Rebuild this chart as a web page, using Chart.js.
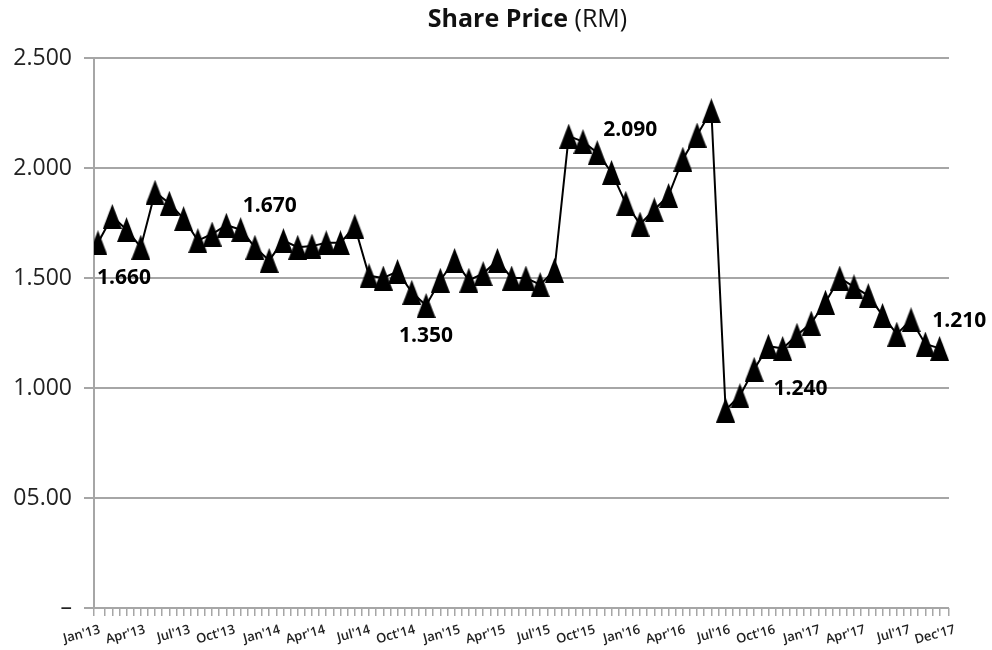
<!DOCTYPE html>
<html lang="en">
<head>
<meta charset="UTF-8">
<title>Share Price (RM)</title>
<script src="https://cdn.jsdelivr.net/npm/chart.js"></script>
<style>
    html, body {
        margin: 0;
        padding: 0;
        background: #fff;
    }
    #wrap {
        position: relative;
        width: 992px;
        height: 650px;
    }
    #title {
        position: absolute;
        left: 127px;
        width: 801px;
        top: 5px;
        text-align: center;
        font-family: "Open Sans", sans-serif;
        font-size: 25px;
        line-height: 25px;
        color: #111;
        white-space: nowrap;
    }
    canvas {
        display: block;
    }
</style>
</head>
<body>
<div id="wrap">
    <div id="title"><b>Share Price</b> (RM)</div>
    <canvas id="priceChart" width="992" height="650"></canvas>
</div>

<script>
    // month names, one per marker (Jan'13 .. Dec'17)
    const monthNames = ['Jan', 'Feb', 'Mar', 'Apr', 'May', 'Jun', 'Jul', 'Aug', 'Sep', 'Oct', 'Nov', 'Dec'];
    const years = ['13', '14', '15', '16', '17'];
    const months = [];
    years.forEach(yy => monthNames.forEach(m => months.push(m + "'" + yy)));

    // monthly share price (RM)
    const prices = [
        1.66, 1.78, 1.72, 1.64, 1.89, 1.84, 1.77, 1.67, 1.70, 1.74, 1.72, 1.64,
        1.58, 1.67, 1.64, 1.645, 1.66, 1.66, 1.735, 1.51, 1.50, 1.53, 1.435, 1.375,
        1.49, 1.58, 1.49, 1.52, 1.58, 1.50, 1.50, 1.47, 1.535, 2.145, 2.12, 2.07,
        1.98, 1.84, 1.745, 1.81, 1.875, 2.04, 2.15, 2.26, 0.90, 0.965, 1.085, 1.19,
        1.18, 1.24, 1.295, 1.39, 1.50, 1.46, 1.42, 1.33, 1.245, 1.31, 1.20, 1.18
    ];

    // axis labels as printed
    const xTickLabels = ["Jan'13", "Apr'13", "Jul'13", "Oct'13", "Jan'14", "Apr'14", "Jul'14", "Oct'14",
        "Jan'15", "Apr'15", "Jul'15", "Oct'15", "Jan'16", "Apr'16", "Jul'16", "Oct'16",
        "Jan'17", "Apr'17", "Jul'17", "Dec'17"];
    const yTickLabels = ['–', '05.00', '1.000', '1.500', '2.000', '2.500'];

    // value notes written on the chart, and the month they sit by
    const noteText = ['1.660', '1.670', '1.350', '2.090', '1.240', '1.210'];
    const noteMonth = ["Jan'13", "Nov'13", "Dec'14", "Dec'15", "Dec'16", "Nov'17"];

    const font = '"Open Sans", sans-serif';
    const gridGrey = '#a6a6a6';

    // black triangle marker, a bit taller than wide
    function triangleMarker(w, h) {
        const c = document.createElement('canvas');
        c.width = w;
        c.height = h;
        const g = c.getContext('2d');
        g.fillStyle = '#000';
        g.beginPath();
        g.moveTo(w / 2, 0);
        g.lineTo(w, h);
        g.lineTo(0, h);
        g.closePath();
        g.fill();
        return c;
    }

    // draws the bold value notes next to their points
    const notesPlugin = {
        id: 'notes',
        afterDatasetsDraw(chart, args, opts) {
            const { ctx, scales: { x, y } } = chart;
            ctx.save();
            ctx.font = 'bold 21px ' + font;
            ctx.fillStyle = '#000';
            ctx.textAlign = 'left';
            ctx.textBaseline = 'middle';
            noteText.forEach((t, i) => {
                const k = months.indexOf(noteMonth[i]);
                const px = x.getPixelForValue(k) + opts.offsets[i][0];
                const py = y.getPixelForValue(prices[k]) + opts.offsets[i][1];
                ctx.fillText(t, px, py);
            });
            ctx.restore();
        }
    };

    const ctx = document.getElementById('priceChart').getContext('2d');
    new Chart(ctx, {
        type: 'line',
        data: {
            datasets: [{
                label: 'Share Price',
                data: prices.map((v, i) => ({ x: i, y: v })),
                borderColor: '#000',
                borderWidth: 2,
                tension: 0,
                pointStyle: triangleMarker(19, 25),
                pointRadius: 10,
                pointHoverRadius: 10
            }]
        },
        options: {
            responsive: false,
            animation: false,
            layout: { padding: { left: 0, right: 43, top: 58, bottom: 0 } },
            plugins: {
                legend: { display: false },
                title: { display: false },
                tooltip: { enabled: false },
                notes: {
                    offsets: [[-1, 35], [2, -24], [-27, 31], [6, -23], [5, 43], [7, -23]]
                }
            },
            scales: {
                x: {
                    type: 'linear',
                    min: -0.28,
                    max: 59.66,
                    position: 'bottom',
                    weight: 0,
                    ticks: { display: false, stepSize: 0.5, autoSkip: false },
                    grid: {
                        display: true,
                        drawOnChartArea: false,
                        drawTicks: true,
                        tickLength: 8,
                        color: gridGrey,
                        lineWidth: 1.5
                    },
                    border: { display: false },
                    afterFit: s => { s.height = 10; }
                },
                xl: {
                    type: 'category',
                    labels: xTickLabels,
                    offset: false,
                    position: 'bottom',
                    weight: 1,
                    grid: { display: false, drawTicks: false },
                    border: { display: false },
                    ticks: {
                        autoSkip: false,
                        minRotation: 15,
                        maxRotation: 15,
                        labelOffset: 6,
                        padding: 4,
                        color: '#222',
                        font: { family: font, size: 13, weight: '600' }
                    },
                    afterFit: s => { s.height = 32; }
                },
                y: {
                    min: 0,
                    max: 2.5,
                    ticks: {
                        stepSize: 0.5,
                        padding: 12,
                        color: '#222',
                        font: { family: font, size: 23 },
                        callback: (v, i) => yTickLabels[i]
                    },
                    grid: { color: gridGrey, lineWidth: 2, tickLength: 10 },
                    border: { color: gridGrey, width: 2 },
                    afterFit: s => { s.width = 94; }
                }
            }
        },
        plugins: [notesPlugin]
    });
</script>
</body>
</html>
